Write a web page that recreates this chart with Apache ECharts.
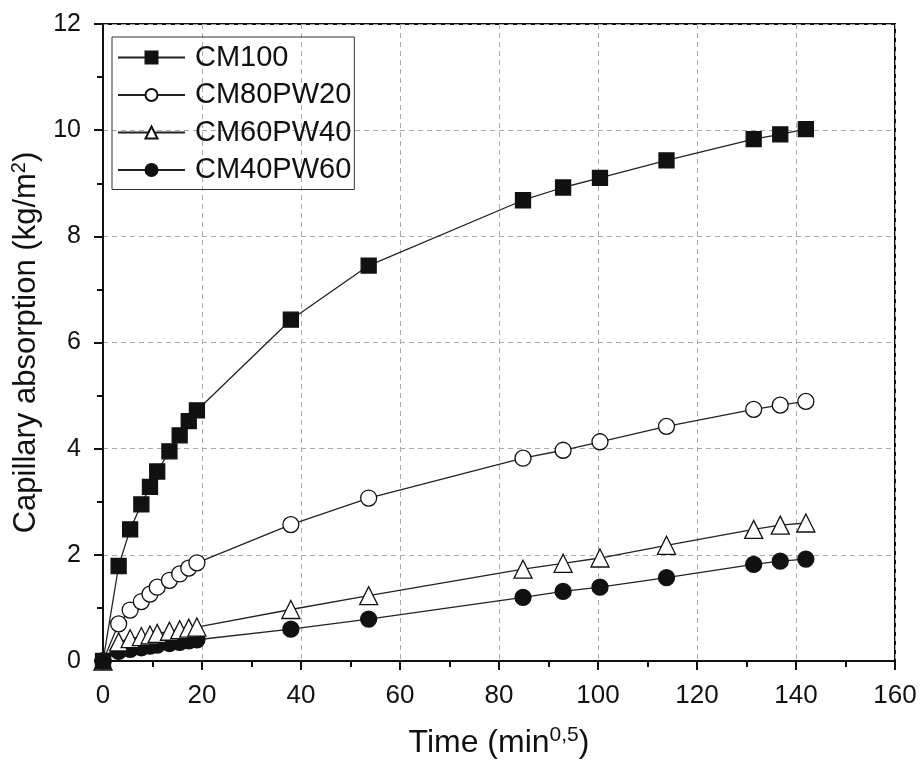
<!DOCTYPE html>
<html>
<head>
<meta charset="utf-8">
<script src="https://cdn.jsdelivr.net/npm/echarts@6/dist/echarts.min.js"></script>
<style>html,body{margin:0;padding:0;background:#fff;}#c{width:922px;height:767px;}</style>
</head>
<body>
<div id="c"></div>
<script>
// time in min^0.5
const times = [0, 3.16, 5.48, 7.75, 9.49, 10.95, 13.42, 15.49, 17.32, 18.97, 37.95, 53.67, 84.85, 92.95, 100.4, 113.84, 131.45, 136.82, 141.99];
const cm100    = [0, 1.79, 2.48, 2.95, 3.28, 3.57, 3.95, 4.25, 4.52, 4.72, 6.43, 7.45, 8.68, 8.92, 9.10, 9.43, 9.83, 9.92, 10.02];
const cm80pw20 = [0, 0.70, 0.96, 1.12, 1.26, 1.39, 1.52, 1.64, 1.75, 1.85, 2.57, 3.07, 3.82, 3.97, 4.13, 4.42, 4.74, 4.82, 4.89];
const cm60pw40 = [0, 0.36, 0.42, 0.46, 0.49, 0.52, 0.56, 0.59, 0.62, 0.64, 0.97, 1.23, 1.73, 1.84, 1.94, 2.18, 2.48, 2.56, 2.60];
const cm40pw60 = [0, 0.18, 0.22, 0.25, 0.28, 0.30, 0.33, 0.35, 0.38, 0.40, 0.60, 0.79, 1.20, 1.31, 1.39, 1.57, 1.82, 1.88, 1.92];
const seriesNames = ['CM100', 'CM80PW20', 'CM60PW40', 'CM40PW60'];
const xTicks = [0, 20, 40, 60, 80, 100, 120, 140, 160];
const yTicks = [0, 2, 4, 6, 8, 10, 12];

const pair = (ys) => times.map((t, i) => [t, ys[i]]);
const styles = [
  {symbol: 'rect', size: 15, fill: '#111'},
  {symbol: 'circle', size: 16, fill: '#fff'},
  {symbol: 'triangle', size: 18, fill: '#fff'},
  {symbol: 'circle', size: 16, fill: '#111'}
];
const datasets = [cm100, cm80pw20, cm60pw40, cm40pw60];

const chart = echarts.init(document.getElementById('c'));
const font = 'Liberation Sans, Arial, sans-serif';
chart.setOption({
  backgroundColor: '#fff',
  animation: false,
  grid: {left: 103, right: 27, top: 24, bottom: 106, show: true, borderColor: '#111', borderWidth: 2, backgroundColor: 'transparent'},
  legend: {
    left: 112, top: 37, orient: 'vertical',
    data: seriesNames,
    itemWidth: 67, itemHeight: 15, itemGap: 8.5,
    padding: [6, 3, 5, 5],
    borderColor: '#333', borderWidth: 1,
    textStyle: {fontFamily: font, fontSize: 29, color: '#111', padding: [0, 0, 0, 5]}
  },
  xAxis: {
    type: 'value', min: 0, max: 160, interval: 20,
    name: 'Time (min{sup|0,5})', nameLocation: 'middle', nameGap: 64,
    nameTextStyle: {fontFamily: font, fontSize: 32, color: '#111',
      rich: {sup: {fontFamily: font, fontSize: 21, color: '#111', padding: [0, 0, 16, 0]}}},
    axisLine: {lineStyle: {color: '#111', width: 2}},
    axisTick: {inside: false, length: 9, lineStyle: {color: '#111', width: 2}},
    minorTick: {show: true, splitNumber: 2, length: 6, lineStyle: {color: '#111', width: 2}},
    axisLabel: {fontFamily: font, fontSize: 26, color: '#111', margin: 22,
      formatter: (v) => xTicks.includes(v) ? String(v) : ''},
    splitLine: {show: true, lineStyle: {color: '#aaa', type: [5, 4], width: 1}}
  },
  yAxis: {
    type: 'value', min: 0, max: 12, interval: 2,
    name: 'Capillary absorption (kg/m{sup|2})', nameLocation: 'middle', nameGap: 56,
    nameTextStyle: {fontFamily: font, fontSize: 31, color: '#111',
      rich: {sup: {fontFamily: font, fontSize: 20, color: '#111', padding: [0, 0, 15, 0]}}},
    axisLine: {lineStyle: {color: '#111', width: 2}},
    axisTick: {inside: false, length: 9, lineStyle: {color: '#111', width: 2}},
    minorTick: {show: true, splitNumber: 2, length: 6, lineStyle: {color: '#111', width: 2}},
    axisLabel: {fontFamily: font, fontSize: 25, color: '#111', margin: 22,
      formatter: (v) => yTicks.includes(v) ? String(v) : ''},
    splitLine: {show: true, lineStyle: {color: '#aaa', type: [5, 4], width: 1}}
  },
  series: [3, 2, 1, 0].map((k) => ({
    name: seriesNames[k],
    type: 'line',
    data: pair(datasets[k]),
    symbol: styles[k].symbol,
    symbolSize: styles[k].size,
    showAllSymbol: true,
    z: 10 - k,
    lineStyle: {color: '#222', width: 1.3},
    itemStyle: {color: styles[k].fill, borderColor: '#111', borderWidth: 1.3},
    emphasis: {disabled: true}
  }))
});
</script>
</body>
</html>
